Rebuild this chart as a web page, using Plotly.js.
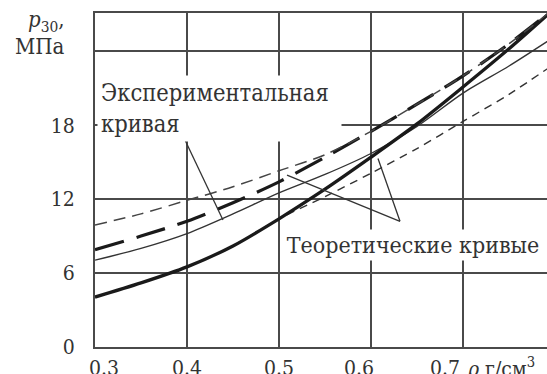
<!DOCTYPE html>
<html>
<head>
<meta charset="utf-8">
<script src="https://cdn.plot.ly/plotly-3.0.1.min.js"></script>
<style>
  html, body { margin: 0; padding: 0; background: #fff; }
  #chart { width: 547px; height: 374px; }
</style>
</head>
<body>
<div id="chart"></div>
<script>
// Density, g/cm^3
const rho = [0.3, 0.35, 0.4, 0.45, 0.5, 0.55, 0.6, 0.65, 0.7, 0.75, 0.8];

// Pressure p30, MPa
const pThickSolid = [4.05, 5.2, 6.5, 8.2, 10.4, 12.8, 15.4, 18.1, 21.1, 24.2, 27.5];
const pThickDash  = [7.9, 9.0, 10.2, 11.7, 13.4, 15.4, 17.5, 19.7, 22.0, 24.6, 27.5];
const pThinSolid  = [7.05, 8.0, 9.2, 10.8, 12.5, 14.0, 15.7, 17.9, 20.6, 22.8, 25.2];
const pThinDashA  = [9.9, 10.8, 11.9, 13.0, 14.3, 15.6, 17.5, 19.7, 22.0, 24.6, 27.5];
const pThinDashB  = [4.05, 5.2, 6.5, 8.2, 10.4, 12.2, 14.1, 16.1, 18.3, 20.5, 23.0];

// Axis ticks (non-breaking spaces nudge labels sideways)
const xTickVals = [0.3, 0.4, 0.5, 0.6, 0.7];
const xTickText = ['\u00a0\u00a0\u00a00.3', '0.4', '0.5', '0.6\u00a0\u00a0\u00a0\u00a0', '0.7\u00a0\u00a0\u00a0\u00a0\u00a0\u00a0'];
const yTickVals = [0, 6, 12, 18, 24];
const yTickText = ['0', '6', '12', '18', ''];

const serif = '"DejaVu Serif Condensed", "DejaVu Serif"';
const ink = '#1a1a1a';
const textInk = '#333';
const gridInk = '#4a4a4a';

function curve(y, width, dash, color) {
  return {
    x: rho, y: y, type: 'scatter', mode: 'lines',
    line: { color: color, width: width, dash: dash, shape: 'spline', smoothing: 0.8 },
    hoverinfo: 'skip', showlegend: false
  };
}

const data = [
  curve(pThinSolid, 1.4, 'solid', '#333'),
  curve(pThinDashB, 1.4, '8px,6px', '#333'),
  curve(pThickSolid, 3.3, 'solid', ink),
  curve(pThickDash, 3.2, '30px,13px', ink),
  curve(pThinDashA, 1.5, '12px,7px', '#444')
];

// pointer lines from the labels to the curves
const pointer = (x0, y0, x1, y1) => ({
  type: 'line', xref: 'x', yref: 'y', x0: x0, y0: y0, x1: x1, y1: y1,
  line: { color: '#333', width: 1.3 }, layer: 'above'
});

const layout = {
  width: 547, height: 374,
  margin: { l: 95, r: 0, t: 13, b: 27 },
  paper_bgcolor: '#fff', plot_bgcolor: '#fff',
  font: { family: serif, color: ink },
  xaxis: {
    range: [0.3, 0.7913], tickvals: xTickVals, ticktext: xTickText,
    showgrid: true, gridcolor: gridInk, gridwidth: 2,
    showline: true, linecolor: gridInk, linewidth: 2, mirror: true,
    ticks: '', ticklabelstandoff: 1,
    tickfont: { family: serif, size: 21, color: textInk },
    zeroline: false, fixedrange: true
  },
  yaxis: {
    range: [0, 27.1], tickvals: yTickVals, ticktext: yTickText,
    showgrid: true, gridcolor: gridInk, gridwidth: 2,
    showline: true, linecolor: gridInk, linewidth: 2, mirror: false,
    ticks: '', ticklabelstandoff: 14,
    tickfont: { family: serif, size: 21, color: textInk },
    zeroline: false, fixedrange: true
  },
  shapes: [
    pointer(0.3978, 16.8, 0.4391, 10.3),
    pointer(0.6315, 10.2, 0.5087, 13.95),
    pointer(0.6315, 10.2, 0.6076, 15.3)
  ],
  annotations: [
    {
      text: 'Экспериментальная<br>кривая', xref: 'paper', yref: 'paper',
      x: 0.0044, y: 0.814, xanchor: 'left', yanchor: 'top', align: 'left', valign: 'middle',
      width: 237, height: 59, borderpad: 3, bgcolor: '#fff', showarrow: false,
      font: { family: serif, size: 23.5, color: textInk }
    },
    {
      text: 'Теоретические кривые', xref: 'paper', yref: 'paper',
      x: 0.7035, y: 0.305, xanchor: 'center', yanchor: 'middle',
      width: 256, height: 26, borderpad: 2, bgcolor: '#fff', showarrow: false,
      font: { family: serif, size: 23, color: textInk }
    },
    {
      text: '<i>p</i><sub>30</sub>,', xref: 'paper', yref: 'paper',
      x: -0.062, y: 0.975, xanchor: 'right', yanchor: 'middle', showarrow: false,
      font: { family: serif, size: 22, color: textInk }
    },
    {
      text: 'МПа', xref: 'paper', yref: 'paper',
      x: -0.062, y: 0.901, xanchor: 'right', yanchor: 'middle', showarrow: false,
      font: { family: serif, size: 22, color: textInk }
    },
    {
      text: '<i>ρ</i> г/см<sup>3</sup>', xref: 'paper', yref: 'paper',
      x: 0.8186, y: -0.012, xanchor: 'left', yanchor: 'top', showarrow: false,
      font: { family: serif, size: 21, color: textInk }
    }
  ]
};

Plotly.newPlot('chart', data, layout, { staticPlot: true, displayModeBar: false });
</script>
</body>
</html>
